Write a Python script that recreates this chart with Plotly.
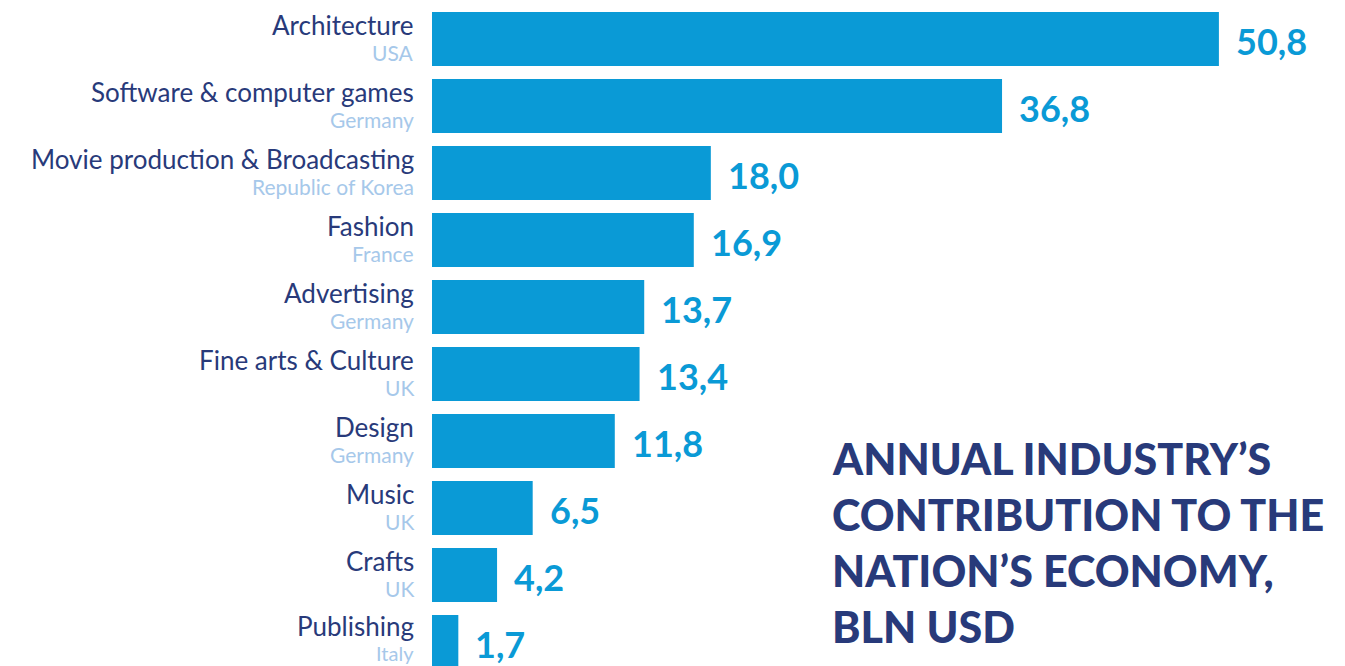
import plotly.graph_objects as go

categories = ["Architecture", "Software & computer games", "Movie production & Broadcasting",
              "Fashion", "Advertising", "Fine arts & Culture", "Design", "Music", "Crafts", "Publishing"]
countries = ["USA", "Germany", "Republic of Korea", "France", "Germany", "UK", "Germany", "UK", "UK", "Italy"]
values = [50.8, 36.8, 18.0, 16.9, 13.7, 13.4, 11.8, 6.5, 4.2, 1.7]
title_lines = ["ANNUAL INDUSTRY’S", "CONTRIBUTION TO THE", "NATION’S ECONOMY,", "BLN USD"]

BAR = "#0a9ad6"
NAVY = "#283a7a"
LIGHT = "#a6c8ea"
FONT = "Lato"

W, H = 1345, 666
L = 432

pos = list(range(len(categories)))

fig = go.Figure(go.Bar(
    x=values, y=pos, orientation="h",
    marker=dict(color=BAR, line=dict(width=0)),
    width=0.806, hoverinfo="skip",
))

ann = []
n = len(categories)
for i, (c, k, v) in enumerate(zip(categories, countries, values)):
    last = i == n - 1
    ann.append(dict(x=0, y=i, xref="x", yref="y", text=c, showarrow=False,
                    xanchor="right", yanchor="middle", xshift=-16, yshift=(14 if not last else 16),
                    font=dict(family=FONT, size=26, color=NAVY)))
    ann.append(dict(x=0, y=i, xref="x", yref="y", text=k, showarrow=False,
                    xanchor="right", yanchor="middle", xshift=-16,
                    yshift=(-13 if not last else -11),
                    font=dict(family=FONT, size=(21 if not last else 20), color=LIGHT)))
    ann.append(dict(x=v, y=i, xref="x", yref="y", text=f"{v:.1f}".replace(".", ","),
                    showarrow=False, xanchor="left", yanchor="middle", xshift=15, yshift=-2,
                    font=dict(family=FONT, size=36, color=BAR, weight="bold")))

# title lines placed by pixel centres
centres = [458, 514, 570, 626]
for line, cy in zip(title_lines, centres):
    ann.append(dict(x=(830 - L) / (W - L), y=1 - cy / H, xref="paper", yref="paper", text=line,
                    showarrow=False, xanchor="left", yanchor="middle", align="left",
                    font=dict(family=FONT, size=43, color=NAVY, weight=900)))

fig.update_layout(
    width=W, height=H,
    margin=dict(l=L, r=0, t=0, b=0),
    paper_bgcolor="white", plot_bgcolor="white",
    showlegend=False,
    xaxis=dict(range=[0, 58.94], visible=False, fixedrange=True),
    yaxis=dict(range=[9.358, -0.582], visible=False, fixedrange=True),
    annotations=ann,
)

fig.write_html("out.html")
